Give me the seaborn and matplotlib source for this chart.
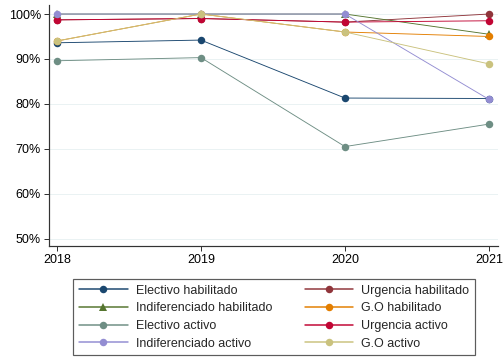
import matplotlib
matplotlib.use("Agg")
import matplotlib.pyplot as plt
import seaborn as sns
import pandas as pd
from matplotlib.ticker import FuncFormatter
from matplotlib.lines import Line2D

years = [2018, 2019, 2020, 2021]
electivo_hab = [93.6, 94.2, 81.3, 81.2]
urgencia_hab = [98.7, 99.0, 98.2, 100.0]
indif_hab = [100.0, 100.0, 100.0, 95.5]
go_hab = [94.0, 100.0, 96.0, 95.0]
electivo_act = [89.6, 90.3, 70.5, 75.5]
urgencia_act = [98.7, 99.0, 98.2, 98.5]
indif_act = [100.0, 100.0, 100.0, 81.0]
go_act = [94.0, 100.0, 96.0, 88.9]

names = ["Electivo habilitado", "Urgencia habilitado", "Indiferenciado habilitado",
         "G.O habilitado", "Electivo activo", "Urgencia activo",
         "Indiferenciado activo", "G.O activo"]
series = [electivo_hab, urgencia_hab, indif_hab, go_hab,
          electivo_act, urgencia_act, indif_act, go_act]
colors = ["#1a476f", "#90353b", "#55752f", "#e37e00",
          "#6e8e84", "#c10534", "#938dd2", "#cac27e"]
markers = ["o", "o", "^", "o", "o", "o", "o", "o"]

rows = []
for n, vals in zip(names, series):
    for y, v in zip(years, vals):
        rows.append({"year": y, "value": v, "serie": n})
df = pd.DataFrame(rows)

sns.set_style("white")
plt.rcParams['font.family'] = ['Liberation Sans', 'DejaVu Sans']

fig = plt.figure(figsize=(7, 5), dpi=72)
ax = fig.add_axes([0.097, 0.317, 0.891, 0.669])

sns.lineplot(data=df, x="year", y="value", hue="serie", style="serie",
             hue_order=names, style_order=names,
             palette=dict(zip(names, colors)),
             markers=dict(zip(names, markers)), dashes=False,
             linewidth=0.9, markersize=7.5, markeredgewidth=0, ax=ax, legend=False)

ax.set_xlim(2017.944, 2021.0625)
ax.set_ylim(48.4, 102.0)
ax.set_xticks(years)
ax.set_yticks([50, 60, 70, 80, 90, 100])
ax.yaxis.set_major_formatter(FuncFormatter(lambda v, p: f"{int(v)}%"))
ax.set_xlabel("")
ax.set_ylabel("")
ax.grid(axis="y", color="#eaf2f3", linewidth=1)
ax.set_axisbelow(True)
for s in ["top", "right"]:
    ax.spines[s].set_visible(False)
for s in ["left", "bottom"]:
    ax.spines[s].set_color("#333333")
    ax.spines[s].set_linewidth(1.2)
ax.tick_params(axis="both", which="both", length=5, width=1, color="#333333",
               labelsize=12.5, labelcolor="black", left=True, bottom=True, pad=3)

order = [0, 2, 4, 6, 1, 3, 5, 7]
handles = [Line2D([0], [0], color=colors[i], marker=markers[i], markersize=7.5,
                  markeredgewidth=0, linewidth=1.5) for i in order]
labels = [names[i] for i in order]
leg = fig.legend(handles, labels, ncol=2, loc="center",
                 bbox_to_anchor=(0.544, 0.119), frameon=True, fancybox=False,
                 edgecolor="#333333", fontsize=12.5, handlelength=3.9,
                 handletextpad=0.64, columnspacing=2.6, labelspacing=0.45,
                 borderpad=0.45, borderaxespad=0)
leg.get_frame().set_linewidth(1.2)

fig.savefig("out.png", dpi=72)
